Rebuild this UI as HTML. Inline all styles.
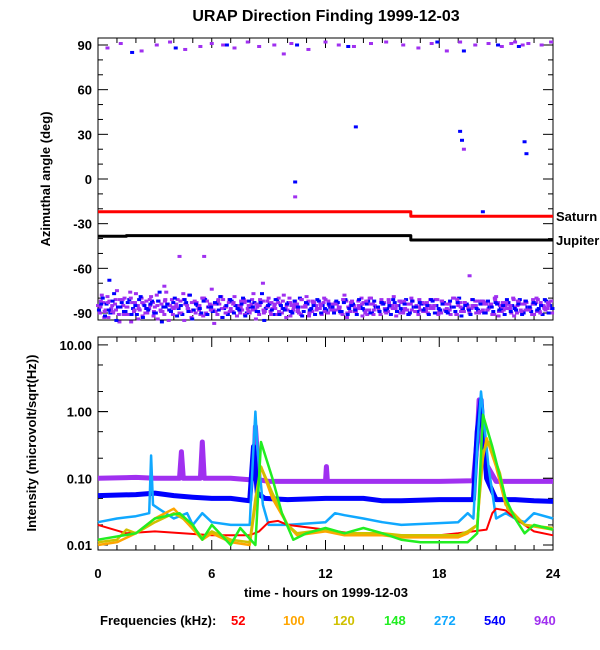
<!DOCTYPE html>
<html><head><meta charset="utf-8">
<style>
html,body{margin:0;padding:0;background:#fff;}
svg{display:block;font-family:"Liberation Sans",sans-serif;}
text{fill:#000;}
</style></head>
<body>
<svg id="chart" width="600" height="650" viewBox="0 0 600 650" xmlns="http://www.w3.org/2000/svg">
<text x="326" y="21" font-size="16" font-weight="bold" text-anchor="middle">URAP Direction Finding  1999-12-03</text>
<g id="topPanel"></g>
<g id="botPanel"></g>
<text transform="translate(50,179) rotate(-90)" font-size="13" font-weight="bold" text-anchor="middle">Azimuthal angle (deg)</text>
<text transform="translate(36,443) rotate(-90)" font-size="13" font-weight="bold" text-anchor="middle">Intensity (microvolt/sqrt(Hz))</text>
<text x="326" y="597" font-size="13" font-weight="bold" text-anchor="middle">time - hours on 1999-12-03</text>
<g font-size="13" font-weight="bold">
<text x="100" y="625">Frequencies (kHz):</text>
<text x="231" y="625" style="fill:#ff0000">52</text>
<text x="283" y="625" style="fill:#ffa500">100</text>
<text x="333" y="625" style="fill:#d0c000">120</text>
<text x="384" y="625" style="fill:#22ee22">148</text>
<text x="434" y="625" style="fill:#10a8ff">272</text>
<text x="484" y="625" style="fill:#0000ff">540</text>
<text x="534" y="625" style="fill:#a030f0">940</text>
</g>
</svg>
<script>
const xTicks = [0, 6, 12, 18, 24];
const azTicks = [90, 60, 30, 0, -30, -60, -90];
const intTicks = [10, 1, 0.1, 0.01];
const intTickLabels = ["10.00", "1.00", "0.10", "0.01"];
const saturnTimes = [0, 16.5, 16.5, 24];
const saturnAngles = [-22, -22, -25, -25];
const jupiterTimes = [0, 1.5, 1.5, 16.5, 16.5, 24];
const jupiterAngles = [-38.5, -38.5, -38, -38, -41, -41];
const purpleBandA = [-85,-78,-88,-82,-90,-75,-86,-80,-91,-83,-77,-88,-84,-90,-79,-86,-82,-89,-76,-85,-87,-81,-90,-84,-78,-88,-83,-91,-80,-86,-74,-89,-84,-81,-90,-87,-79,-85,-88,-82,-90,-77,-86,-83,-89,-80,-87,-91,-84,-78,-88,-85,-82,-90,-86,-79,-89,-83,-87,-91,-81,-85,-88,-84,-90,-78,-86,-82,-89,-87,-83,-91,-80,-85,-88,-84,-90,-86,-79,-89,-83,-87,-91,-82,-85,-88,-84,-90,-86,-81,-89,-83,-87,-91,-80,-85,-88,-84,-90,-86,-82,-89,-83,-87,-91,-79,-85,-88,-84,-90,-86,-82,-89,-83,-87,-91,-81,-85,-88,-84];
const purpleBandB = [-90,-83,-79,-87,-84,-91,-81,-86,-76,-89,-85,-80,-90,-87,-83,-78,-88,-91,-84,-81,-86,-90,-77,-85,-89,-82,-87,-80,-90,-84,-88,-91,-79,-86,-83,-89,-85,-90,-81,-87,-84,-88,-91,-82,-86,-89,-85,-83,-90,-87,-80,-88,-84,-91,-86,-82,-89,-85,-87,-83,-90,-88,-84,-86,-91,-82,-89,-85,-87,-80,-90,-88,-84,-86,-91,-83,-89,-85,-87,-82,-90,-88,-84,-86,-91,-83,-89,-85,-87,-81,-90,-88,-84,-86,-91,-83,-89,-85,-87,-82,-90,-88,-84,-86,-91,-83,-89,-85,-87,-80,-90,-88,-84,-86,-91,-83,-89,-85,-87,-82];
const blueBand = [-88,-80,-84,-90,-77,-86,-83,-89,-81,-87,-91,-79,-85,-88,-82,-90,-76,-86,-84,-89,-80,-87,-91,-83,-78,-88,-85,-90,-81,-86,-89,-84,-79,-87,-91,-82,-85,-88,-80,-90,-86,-83,-89,-77,-87,-84,-91,-81,-85,-88,-83,-90,-86,-80,-89,-84,-87,-91,-82,-85,-88,-86,-90,-83,-89,-81,-87,-84,-91,-85,-88,-82,-90,-86,-89,-84,-87,-91,-83,-85,-88,-81,-90,-86,-89,-84,-87,-91,-82,-85,-88,-83,-90,-86,-89,-80,-87,-84,-91,-85,-88,-82,-90,-86,-89,-84,-87,-91,-83,-85,-88,-81,-90,-86,-89,-84,-87,-91,-82,-85];
const purpleTopTimes = [0.5,1.2,2.3,3.1,3.8,4.6,5.4,6.0,6.6,7.2,7.9,8.5,9.3,10.2,11.1,12.0,12.7,13.5,14.4,15.2,16.1,16.9,17.6,18.4,19.1,19.9,20.6,21.3,22.0,22.7,23.4,23.9,9.8,21.8,22.4];
const purpleTopAngles = [88,91,86,90,92,87,89,91,90,88,92,89,90,91,87,92,90,89,91,92,90,88,91,86,92,90,91,89,92,91,90,92,84,91,90];
const blueTopTimes = [1.8,4.1,6.8,10.5,13.2,17.9,19.3,21.1,22.2];
const blueTopAngles = [85,88,90,90,89,92,86,90,89];
const sparseTimes = [4.3,8.7,10.4,10.4,13.6,19.1,19.2,19.3,20.3,22.5,22.6,5.6,19.6,0.6,3.5];
const sparseAngles = [-52,-70,-2,-12,35,32,26,20,-22,25,17,-52,-65,-68,-72];
const sparseColors = ["p","p","b","p","b","b","b","p","b","b","b","p","p","b","p"];
const t52 = [0,1.5,3,6,8,8.5,9,9.5,10,12,14,18,19,20.5,20.8,21,21.5,22,23,24];
const v52 = [0.02,0.015,0.016,0.014,0.014,0.016,0.022,0.023,0.02,0.017,0.014,0.014,0.015,0.017,0.03,0.035,0.033,0.025,0.016,0.014];
const t100 = [0,1,2,3,4,4.8,5.5,6,7,8,8.3,8.6,9.2,10,10.5,12,13,15,16,19,19.5,20,20.3,20.5,21,21.5,22.5,24];
const v100 = [0.01,0.011,0.015,0.025,0.035,0.02,0.012,0.015,0.011,0.01,0.04,0.15,0.05,0.02,0.014,0.016,0.014,0.014,0.013,0.013,0.015,0.02,0.2,0.4,0.15,0.04,0.02,0.017];
const t120 = [0,1,1.5,2,3,4,4.8,5.5,6,7,8,8.3,8.6,9.2,10,10.5,12,13,15,16,19,19.5,20,20.3,20.6,21.2,21.6,22.5,24];
const v120 = [0.011,0.012,0.017,0.015,0.022,0.03,0.022,0.013,0.016,0.012,0.011,0.05,0.15,0.06,0.02,0.015,0.017,0.015,0.015,0.014,0.014,0.016,0.02,0.25,0.35,0.12,0.035,0.02,0.018];
const t148 = [0,2,3,4.3,5,5.5,6,7,7.5,8.3,8.6,9.2,9.7,10.3,11,12,13,14,15,16,17,19.5,20,20.3,20.8,21.5,22,22.5,23,24];
const v148 = [0.012,0.015,0.025,0.03,0.02,0.012,0.02,0.01,0.018,0.01,0.35,0.1,0.03,0.012,0.015,0.018,0.015,0.018,0.015,0.012,0.011,0.011,0.015,0.9,0.3,0.05,0.025,0.015,0.02,0.017];
const t272 = [0,1,2,2.7,2.8,2.9,3.2,4,4.7,5,5.5,6,7,8,8.2,8.3,8.4,8.7,9,10,12,12.5,13,14,15,16,19,19.5,19.8,20,20.2,20.6,21,21.5,22,22.5,23,24];
const v272 = [0.022,0.025,0.027,0.03,0.22,0.04,0.035,0.025,0.03,0.02,0.03,0.022,0.02,0.02,0.3,1.0,0.3,0.04,0.02,0.02,0.022,0.03,0.028,0.025,0.022,0.02,0.022,0.03,0.025,0.3,2.0,0.15,0.025,0.03,0.025,0.022,0.03,0.025];
const t540 = [0,2,3,4,5,6,7,8,8.2,8.4,8.8,10,12,14,15,16,18,19.8,20,20.2,20.5,21,22,23,24];
const v540 = [0.055,0.057,0.06,0.055,0.052,0.05,0.05,0.046,0.3,0.06,0.05,0.048,0.05,0.05,0.046,0.046,0.048,0.048,0.5,1.5,0.1,0.048,0.048,0.046,0.045];
const t940 = [0,2,3,4.3,4.4,4.5,5.4,5.5,5.6,7,8,8.2,8.3,8.5,9,12,12.05,12.1,15,18,19.8,20,20.1,20.3,21,24];
const v940 = [0.1,0.103,0.1,0.1,0.25,0.1,0.1,0.35,0.1,0.1,0.095,0.1,0.6,0.095,0.09,0.09,0.15,0.09,0.09,0.09,0.092,0.4,1.5,0.2,0.09,0.09];

const NS = "http://www.w3.org/2000/svg";
const X0 = 98, X1 = 553;
const TT = 38, TB = 320, BT = 337, BB = 550;
function xS(t){ return X0 + (X1 - X0) * t / 24; }
function yAz(a){ return 179 - a * (134 / 90); }
function yI(v){ return 545 - 66.7 * Math.log10(v / 0.01); }
const COLORS = {52:"#ff0000",100:"#ffa500",120:"#d0c000",148:"#22ee22",272:"#10a8ff",540:"#0000ff",940:"#a030f0"};
function mk(parent, tag, attrs){
  const el = document.createElementNS(NS, tag);
  for (const k in attrs) el.setAttribute(k, attrs[k]);
  parent.appendChild(el);
  return el;
}
const topG = document.getElementById("topPanel");
const botG = document.getElementById("botPanel");

function frame(g, yt, yb, name){
  const r = mk(g, "rect", {x:X0, y:yt, width:X1-X0, height:yb-yt, fill:"none", stroke:"#000", "stroke-width":1});
  
  
  for (let h = 0; h <= 24; h++){
    const len = h % 6 === 0 ? 10 : 5;
    const x = xS(h);
    mk(g, "line", {x1:x, x2:x, y1:yb, y2:yb-len, stroke:"#000"});
    mk(g, "line", {x1:x, x2:x, y1:yt, y2:yt+len, stroke:"#000"});
  }
}
frame(topG, TT, TB, "azimuth-plot-frame");
for (let a = -90; a <= 90; a += 10){
  const y = yAz(a);
  const len = a % 30 === 0 ? 10 : 5;
  mk(topG, "line", {x1:X0, x2:X0+len, y1:y, y2:y, stroke:"#000"});
  mk(topG, "line", {x1:X1, x2:X1-len, y1:y, y2:y, stroke:"#000"});
}
azTicks.forEach(a => {
  const t = mk(topG, "text", {x:X0-6, y:yAz(a)+5, "font-size":13, "font-weight":"bold", "text-anchor":"end"});
  
  
  t.textContent = String(a);
});
function dot(t, a, color){
  const r = mk(topG, "rect", {x:xS(t)-2, y:yAz(a)-1.5, width:4, height:3, fill:color});
  
  
}
purpleBandA.forEach((a,i) => dot(i*0.2, a, COLORS[940]));
purpleBandB.forEach((a,i) => dot(i*0.2+0.1, a, COLORS[940]));
blueBand.forEach((a,i) => dot(i*0.2+0.05, a, COLORS[540]));
purpleBandB.forEach((a,i) => dot(i*0.2+0.15, -172 - a, COLORS[940]));
purpleBandA.forEach((a,i) => dot(i*0.2+0.13, -171 - a, COLORS[940]));
blueBand.forEach((a,i) => dot(i*0.2+0.17, -172 - a, COLORS[540]));
purpleTopTimes.forEach((t,i) => dot(t, purpleTopAngles[i], COLORS[940]));
blueTopTimes.forEach((t,i) => dot(t, blueTopAngles[i], COLORS[540]));
sparseTimes.forEach((t,i) => dot(t, sparseAngles[i], sparseColors[i]==="b" ? COLORS[540] : COLORS[940]));
function path(g, ts, vs, yf, color, w, name){
  let d = "";
  ts.forEach((t,i) => { d += (i ? "L" : "M") + xS(t).toFixed(1) + "," + yf(vs[i]).toFixed(1); });
  const p = mk(g, "path", {d:d, fill:"none", stroke:color, "stroke-width":w, "stroke-linejoin":"round"});
  
  
}
path(topG, saturnTimes, saturnAngles, yAz, "#ff0000", 3, "saturn-line");
path(topG, jupiterTimes, jupiterAngles, yAz, "#000000", 3, "jupiter-line");
const sl = mk(topG, "text", {x:X1+3, y:yAz(-25)+5, "font-size":13, "font-weight":"bold"});


sl.textContent = "Saturn";
const jl = mk(topG, "text", {x:X1+3, y:yAz(-41)+5, "font-size":13, "font-weight":"bold"});


jl.textContent = "Jupiter";

frame(botG, BT, BB, "intensity-plot-frame");
for (let e = -2; e < 1; e++){
  for (let m = 1; m <= 9; m++){
    const v = m * Math.pow(10, e);
    const y = yI(v);
    if (y < BT) continue;
    const len = m === 1 ? 10 : 5;
    if (m === 1 || m === 2 || m === 5){
      mk(botG, "line", {x1:X0, x2:X0+len, y1:y, y2:y, stroke:"#000"});
      mk(botG, "line", {x1:X1, x2:X1-len, y1:y, y2:y, stroke:"#000"});
    }
  }
}
intTicks.forEach((v,i) => {
  const y = yI(v);
  mk(botG, "line", {x1:X0, x2:X0+10, y1:y, y2:y, stroke:"#000"});
  mk(botG, "line", {x1:X1, x2:X1-10, y1:y, y2:y, stroke:"#000"});
  const t = mk(botG, "text", {x:X0-6, y:y+5, "font-size":13, "font-weight":"bold", "text-anchor":"end"});
  
  
  t.textContent = intTickLabels[i];
});
xTicks.forEach(h => {
  const t = mk(botG, "text", {x:xS(h), y:578, "font-size":13, "font-weight":"bold", "text-anchor":"middle"});
  
  
  t.textContent = String(h);
});
path(botG, t940, v940, yI, COLORS[940], 5, "series-940khz");
path(botG, t540, v540, yI, COLORS[540], 5, "series-540khz");
path(botG, t272, v272, yI, COLORS[272], 2.5, "series-272khz");
path(botG, t52, v52, yI, COLORS[52], 2, "series-52khz");
path(botG, t100, v100, yI, COLORS[100], 2.5, "series-100khz");
path(botG, t120, v120, yI, COLORS[120], 2.5, "series-120khz");
path(botG, t148, v148, yI, COLORS[148], 2.5, "series-148khz");
</script>
</body></html>
